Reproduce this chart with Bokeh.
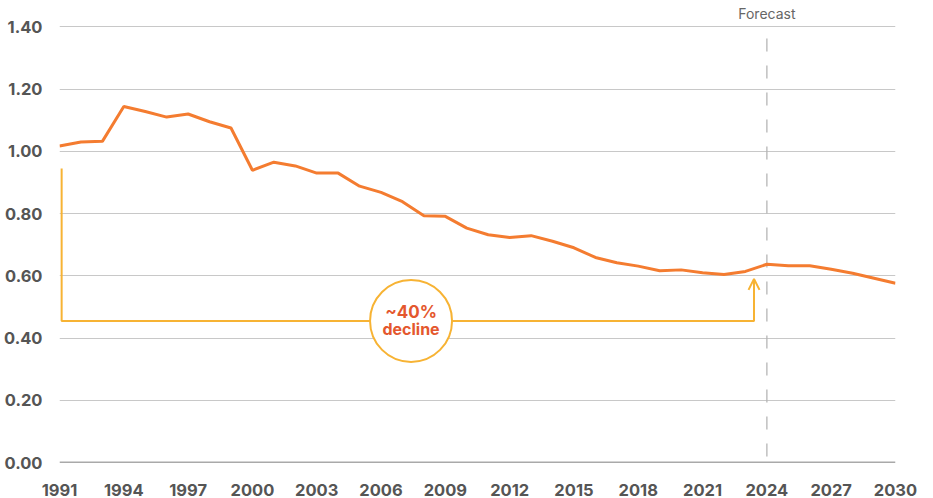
from bokeh.plotting import figure
from bokeh.models import (Range1d, FixedTicker, NumeralTickFormatter, Span,
                          Arrow, OpenHead, ColumnDataSource)
from bokeh.core.properties import value
from bokeh.embed import file_html
from bokeh.resources import INLINE

# ---- data ----
years = list(range(1991, 2031))
values = [1.017, 1.030, 1.032, 1.144, 1.128, 1.110, 1.120, 1.095, 1.075, 0.939,
          0.965, 0.953, 0.930, 0.930, 0.888, 0.868, 0.838, 0.793, 0.791, 0.753,
          0.732, 0.723, 0.729, 0.711, 0.690, 0.659, 0.642, 0.631, 0.616, 0.619,
          0.610, 0.604, 0.614, 0.637, 0.632, 0.632, 0.621, 0.608, 0.592, 0.576]
x_ticks = [1991, 1994, 1997, 2000, 2003, 2006, 2009, 2012, 2015, 2018, 2021, 2024, 2027, 2030]
y_ticks = [0.0, 0.2, 0.4, 0.6, 0.8, 1.0, 1.2, 1.4]
y_top = 1.4
forecast_year = 2024
forecast_label = "Forecast"

# bracket annotation ("~40% decline")
bracket_x = [1991.1, 1991.1, 2023.4, 2023.4]
bracket_y = [0.945, 0.455, 0.455, 0.575]
arrow_x = 2023.4
arrow_from = 0.56
arrow_to = 0.59
badge_year = 2007.4
badge_value = 0.455
badge_line1 = "~40%"
badge_line2 = "decline"

LINE = "#F47C30"
GOLD = "#F7B334"
RED = "#E4572E"
AXIS_TXT = "#555555"
FONT = "Inter"

# headroom above 1.40 for the "Forecast" caption
p = figure(width=933, height=498, output_backend="svg", toolbar_location=None,
           x_range=Range1d(1991, 2030), y_range=Range1d(0, 1.475),
           min_border_left=59, min_border_right=38, min_border_top=3, min_border_bottom=35)
p.outline_line_color = None
p.background_fill_color = "white"
p.border_fill_color = "white"

# axes
p.yaxis.ticker = FixedTicker(ticks=y_ticks)
p.yaxis.formatter = NumeralTickFormatter(format="0.00")
p.xaxis.ticker = FixedTicker(ticks=x_ticks)
for ax in (p.xaxis, p.yaxis):
    ax.axis_line_color = None
    ax.major_tick_line_color = None
    ax.minor_tick_line_color = None
    ax.major_label_text_font = FONT
    ax.major_label_text_font_style = "bold"
    ax.major_label_text_font_size = "16.5px"
    ax.major_label_text_color = AXIS_TXT
p.yaxis.major_label_standoff = 11
p.xaxis.major_label_standoff = 15

p.xgrid.grid_line_color = None
p.ygrid.ticker = FixedTicker(ticks=y_ticks)
p.ygrid.grid_line_color = "#c8c8c8"
p.ygrid.grid_line_width = 1

# baseline
p.add_layout(Span(location=0, dimension="width", line_color="#555555", line_width=1.5))

# forecast divider (from baseline up to the top gridline)
p.segment(x0=[forecast_year], y0=[0], x1=[forecast_year], y1=[y_top],
          line_color="#b5b5b5", line_width=1.3, line_dash="13 14", line_dash_offset=-6)
p.text([forecast_year], [y_top], text=[forecast_label], y_offset=-5,
       text_align="center", text_baseline="bottom", text_font=value(FONT),
       text_font_size="14px", text_color="#666666")

# bracket
p.line(bracket_x, bracket_y, line_color=GOLD, line_width=2)
p.add_layout(Arrow(end=OpenHead(size=11, line_color=GOLD, line_width=2),
                   line_color=GOLD, line_width=2,
                   x_start=arrow_x, y_start=arrow_from, x_end=arrow_x, y_end=arrow_to))

# main series
src = ColumnDataSource(dict(year=years, value=values))
p.line("year", "value", source=src, line_color=LINE, line_width=3)

# badge
p.scatter([badge_year], [badge_value], size=82, marker="circle", fill_color="white",
          line_color=GOLD, line_width=2)
p.text([badge_year], [badge_value], text=[badge_line1], y_offset=-9,
       text_align="center", text_baseline="middle", text_font=value(FONT),
       text_font_style="bold", text_font_size="17px", text_color=RED)
p.text([badge_year], [badge_value], text=[badge_line2], y_offset=8,
       text_align="center", text_baseline="middle", text_font=value(FONT),
       text_font_style="bold", text_font_size="16px", text_color=RED)

open("out.html", "w").write(file_html(p, INLINE))
